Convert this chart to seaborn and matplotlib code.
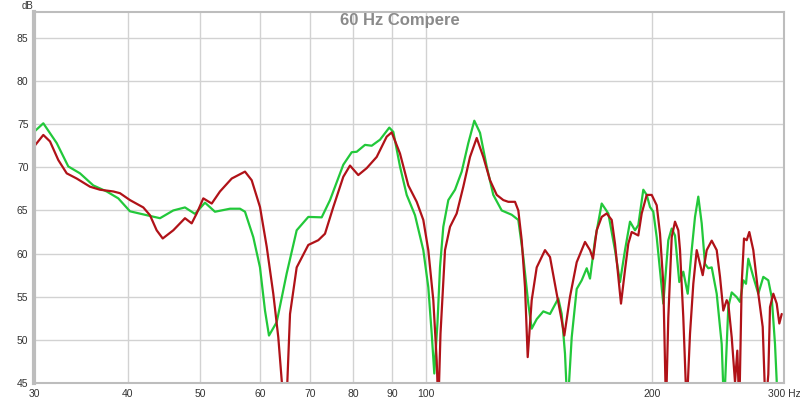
import pandas as pd
import matplotlib
matplotlib.use('Agg')
import matplotlib.pyplot as plt
import seaborn as sns

# green trace (Hz, dB)
green_hz = [30.0, 30.87, 32.17, 33.33, 34.55, 35.99, 37.50, 38.86, 40.28, 42.40,
            44.17, 46.01, 47.69, 49.18, 50.71, 52.29, 54.76, 56.47, 57.34, 58.82,
            60.04, 60.97, 61.72, 63.20, 65.17, 67.20, 69.64, 72.56, 74.44, 77.54,
            79.57, 80.80, 82.88, 84.60, 86.79, 89.30, 90.41, 92.28, 94.20, 96.63,
            99.13, 100.66, 101.72, 102.53, 103.54, 104.34, 105.40, 107.04, 109.26, 111.53,
            113.81, 115.93, 117.98, 120.43, 122.89, 126.10, 130.04, 132.70, 134.75, 136.83,
            138.27, 140.41, 143.28, 146.26, 150.04, 151.61, 153.15, 154.33, 156.34, 158.76,
            161.21, 163.71, 165.37, 167.93, 171.42, 174.93, 178.56, 181.33, 184.13, 186.98,
            189.87, 191.80, 194.77, 196.82, 198.82, 200.84, 202.95, 207.11, 210.31, 212.52,
            214.68, 217.53, 220.22, 223.22, 225.97, 228.28, 230.60, 233.02, 235.39, 237.79,
            240.29, 244.00, 247.78, 249.54, 252.85, 255.51, 259.46, 262.10, 264.77, 266.97,
            268.86, 273.02, 277.25, 281.54, 285.89, 288.89, 291.83, 294.5]
green_db = [74.1, 75.1, 72.8, 70.1, 69.3, 67.9, 67.2, 66.4, 64.9, 64.45,
            64.1, 65.0, 65.35, 64.6, 65.9, 64.85, 65.2, 65.2, 64.85, 61.9,
            58.4, 53.4, 50.5, 52.05, 57.7, 62.7, 64.25, 64.2, 66.2, 70.3,
            71.75, 71.8, 72.6, 72.5, 73.2, 74.6, 74.1, 70.1, 66.8, 64.45,
            60.4, 56.1, 50.7, 46.1, 52.0, 58.4, 63.1, 66.2, 67.4, 69.5,
            72.8, 75.4, 74.0, 70.1, 66.8, 65.0, 64.5, 63.9, 59.6, 54.2,
            51.3, 52.4, 53.3, 53.0, 54.8, 53.0, 48.4, 42.0, 50.3, 55.9,
            56.9, 58.3, 57.1, 61.55, 65.8, 64.65, 60.4, 56.7, 60.4, 63.7,
            62.7, 63.3, 67.4, 66.8, 65.4, 64.85, 61.9, 54.2, 61.55, 62.9,
            62.1, 56.7, 57.9, 55.35, 60.4, 64.25, 66.6, 63.5, 58.8, 58.3,
            58.4, 55.35, 49.5, 42.0, 53.8, 55.5, 54.95, 54.4, 56.9, 56.5,
            59.4, 57.3, 55.35, 57.3, 56.9, 54.95, 49.5, 42.0]

# red trace (Hz, dB)
red_hz = [30.0, 30.87, 31.51, 32.32, 33.17, 34.20, 35.63, 36.74, 38.27, 39.06,
          40.28, 41.96, 42.83, 43.72, 44.54, 46.01, 47.69, 48.68, 49.44, 50.45,
          51.77, 53.10, 55.05, 57.34, 58.53, 60.04, 61.29, 62.54, 63.51, 64.18,
          64.73, 65.29, 65.84, 67.20, 69.64, 71.81, 73.30, 75.20, 77.54, 79.15,
          81.19, 83.31, 85.91, 88.59, 89.96, 92.28, 94.67, 97.14, 99.13, 100.66,
          102.22, 103.29, 103.80, 104.50, 105.96, 107.60, 109.83, 112.08, 114.41, 116.79,
          119.18, 121.66, 124.19, 126.73, 128.69, 131.36, 132.70, 134.09, 135.46, 136.58,
          138.27, 140.41, 144.03, 146.26, 149.30, 151.61, 152.83, 155.52, 158.76, 162.86,
          165.37, 166.90, 168.81, 171.42, 174.07, 176.77, 178.56, 180.38, 181.88, 184.13,
          186.01, 187.96, 189.87, 191.80, 193.82, 196.82, 199.86, 202.95, 205.02, 207.11,
          208.83, 210.31, 212.52, 214.68, 216.87, 218.01, 220.22, 222.53, 224.80, 227.09,
          229.47, 231.81, 233.74, 236.63, 240.29, 244.00, 246.49, 249.00, 251.61, 252.85,
          255.51, 258.11, 259.94, 261.54, 263.47, 265.34, 267.55, 269.69, 273.02, 277.25,
          281.02, 283.45, 285.89, 287.39, 290.32, 293.36, 295.72, 297.91]
red_db = [72.4, 73.75, 73.0, 70.85, 69.3, 68.7, 67.75, 67.4, 67.2, 67.0,
          66.2, 65.35, 64.45, 62.7, 61.75, 62.7, 64.1, 63.5, 64.65, 66.4,
          65.8, 67.2, 68.7, 69.5, 68.5, 65.4, 60.8, 55.35, 50.3, 45.3,
          42.0, 45.0, 53.0, 58.4, 61.0, 61.55, 62.3, 65.4, 68.9, 70.2,
          69.1, 69.9, 71.2, 73.55, 74.05, 71.6, 67.9, 66.0, 63.9, 60.4,
          54.6, 47.6, 42.0, 50.7, 60.4, 63.1, 64.65, 67.75, 71.2, 73.4,
          71.2, 68.5, 66.8, 66.2, 66.0, 66.0, 65.0, 61.55, 56.1, 48.0,
          54.6, 58.4, 60.4, 59.6, 55.35, 52.25, 50.5, 55.0, 59.0, 61.35,
          60.4, 59.4, 62.7, 64.25, 64.65, 63.9, 61.15, 57.3, 54.2, 58.1,
          61.15, 62.5, 62.3, 62.1, 64.65, 66.8, 66.8, 65.6, 62.3, 56.5,
          42.0, 52.6, 61.9, 63.7, 62.7, 60.4, 52.6, 42.0, 50.7, 56.5,
          60.4, 58.8, 57.5, 60.4, 61.5, 60.4, 57.3, 53.4, 54.6, 54.2,
          50.3, 45.1, 48.75, 42.0, 56.5, 61.75, 61.55, 62.5, 60.4, 55.35,
          51.5, 42.0, 46.0, 53.8, 55.35, 54.2, 51.9, 53.0]

x_ticks = [30, 40, 50, 60, 70, 80, 90, 100, 200, 300]
x_labels = ['30', '40', '50', '60', '70', '80', '90', '100', '200', '300 Hz']
y_ticks = [45, 50, 55, 60, 65, 70, 75, 80, 85]

green_df = pd.DataFrame({'freq': green_hz, 'db': green_db})
red_df = pd.DataFrame({'freq': red_hz, 'db': red_db})

sns.set_style('white')
plt.rcParams['font.family'] = ['Liberation Sans', 'DejaVu Sans']

fig = plt.figure(figsize=(8, 4), dpi=100)
ax = fig.add_axes([0.0425, 0.0425, 0.9375, 0.9275])

sns.lineplot(data=green_df, x='freq', y='db', ax=ax, color='#22c83a', lw=1.6, estimator=None, sort=False)
sns.lineplot(data=red_df, x='freq', y='db', ax=ax, color='#b01218', lw=1.6, estimator=None, sort=False)

ax.set_xscale('log')
ax.set_xlim(30, 300)
ax.set_ylim(45, 88)
ax.set_xticks(x_ticks)
ax.set_xticklabels(x_labels)
ax.minorticks_off()
ax.set_yticks(y_ticks)
ax.set_xlabel('')
ax.set_ylabel('')
ax.grid(True, color='#d2d2d2', lw=1)
ax.set_axisbelow(True)
ax.tick_params(length=0, labelsize=7.5, labelcolor='#333333')
ax.tick_params(axis='x', pad=4)
ax.tick_params(axis='y', pad=4)
for s in ax.spines.values():
    s.set_color('#bdbdbd')
    s.set_linewidth(1.5)
ax.spines['left'].set_linewidth(3)

fig.text(0.5, 0.948, '60 Hz Compere', ha='center', va='center', fontsize=12,
         fontweight='bold', color='#8a8a8a')
fig.text(0.027, 0.985, 'dB', ha='left', va='center', fontsize=7, color='#333333')

fig.savefig('out.png', dpi=100)
